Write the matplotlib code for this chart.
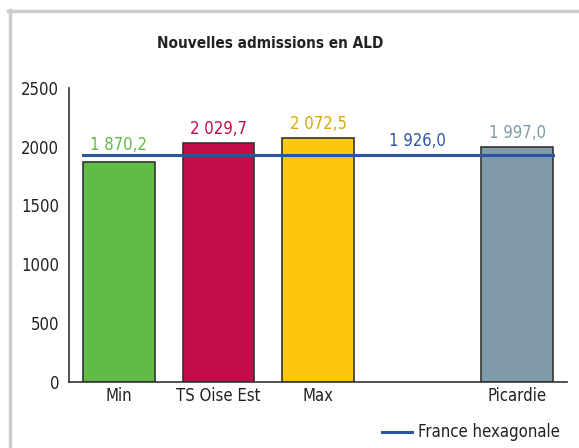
import matplotlib
matplotlib.use("Agg")
import matplotlib.pyplot as plt
from matplotlib.lines import Line2D

categories = ["Min", "TS Oise Est", "Max", "", "Picardie"]
values = [1870.2, 2029.7, 2072.5, None, 1997.0]
value_labels = ["1 870,2", "2 029,7", "2 072,5", None, "1 997,0"]
bar_colors = ["#62BB46", "#C10D48", "#FDC70B", None, "#7F9AAA"]
label_colors = ["#62BB46", "#C10D48", "#D9A90A", None, "#7F9AAA"]
france_value = 1926.0
france_label = "1 926,0"
france_color = "#2B55A3"
yticks = [0, 500, 1000, 1500, 2000, 2500]
title = "Nouvelles admissions en ALD"
legend_label = "France hexagonale"

plt.rcParams["font.family"] = ["DejaVu Sans"]
plt.rcParams["font.stretch"] = "condensed"
FS = 12

W, H = 579, 448
fig = plt.figure(figsize=(W / 100, H / 100), dpi=100)
ax = fig.add_axes([69 / W, 1 - 381.7 / H, (567 - 69) / W, (381.7 - 88) / H])

xs = list(range(len(categories)))
bw = 0.72
for x, v, c in zip(xs, values, bar_colors):
    if v is None:
        continue
    ax.bar(x, v, width=bw, color=c, edgecolor="#333333", linewidth=1.2, zorder=2)

for x, v, lab, c in zip(xs, values, value_labels, label_colors):
    if v is None:
        continue
    off = 70 if v < france_value else 45
    ax.text(x, v + off, lab, ha="center", va="bottom", color=c, fontsize=FS)

ax.plot([-bw / 2, len(categories) - 1 + bw / 2], [france_value, france_value],
        color=france_color, linewidth=2.2, zorder=3)
ax.text(3, france_value + 45, france_label, ha="center", va="bottom",
        color=france_color, fontsize=FS)

ax.set_xlim(-0.5, 4.5)
ax.set_ylim(0, 2500)
ax.set_yticks(yticks)
ax.set_yticklabels([str(t) for t in yticks], fontsize=FS, color="#222222")
ax.set_xticks(xs)
ax.set_xticklabels(categories, fontsize=FS, color="#222222")
ax.tick_params(axis="both", length=0, pad=4)
ax.tick_params(axis="y", pad=7)
for s in ["top", "right"]:
    ax.spines[s].set_visible(False)
for s in ["left", "bottom"]:
    ax.spines[s].set_color("#333333")
    ax.spines[s].set_linewidth(1.2)

fig.text(270 / W, 1 - 43 / H, title, ha="center", va="center",
         fontsize=11, fontweight="bold", color="#222222")

# legend
fig.add_artist(Line2D([382 / W, 412 / W], [1 - 432 / H, 1 - 432 / H],
                      color=france_color, linewidth=2.2))
fig.text(418 / W, 1 - 432 / H, legend_label, ha="left", va="center",
         fontsize=FS, color="#222222")

# frame
fig.add_artist(Line2D([9.5 / W, 9.5 / W], [0, 1 - 10 / H], color="#CCCCCC", linewidth=2.5))
fig.add_artist(Line2D([8 / W, 1], [1 - 11.5 / H, 1 - 11.5 / H], color="#CCCCCC", linewidth=2.5))

fig.savefig("out.png", dpi=100)
